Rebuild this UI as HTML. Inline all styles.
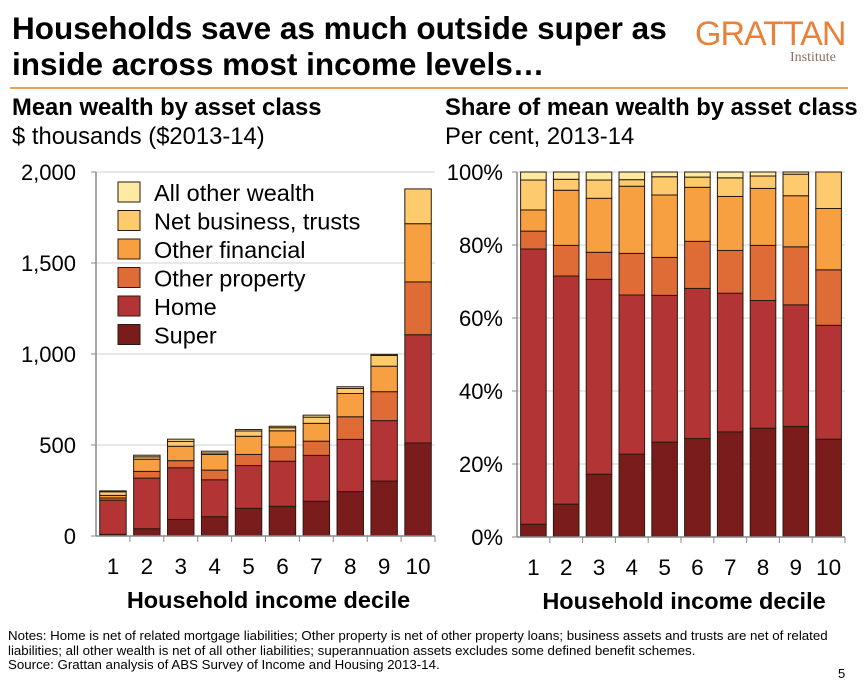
<!DOCTYPE html>
<html><head><meta charset="utf-8"><style>
body{margin:0;width:867px;height:691px;background:#fff;font-family:"Liberation Sans",Arial,sans-serif;overflow:hidden;position:relative}
.t{position:absolute;white-space:nowrap;color:#000}
</style></head><body>
<div class="t" style="left:12px;top:10px;font-size:31.5px;font-weight:bold;line-height:36px">Households save as much outside super as<br>inside across most income levels…</div>
<div class="t" style="left:695px;top:16px;font-size:34px;color:#e8823a;letter-spacing:-1px;line-height:36px">GRATTAN</div>
<div class="t" style="left:790px;top:50px;font-size:14px;color:#8a7060;font-family:'Liberation Serif',serif">Institute</div>
<div style="position:absolute;left:10px;top:87px;width:838px;height:2px;background:#f0a050"></div>
<div class="t" style="left:12px;top:94px;font-size:23.8px;font-weight:bold">Mean wealth by asset class</div>
<div class="t" style="left:12px;top:123px;font-size:23.8px">$ thousands ($2013-14)</div>
<div class="t" style="left:445px;top:94px;font-size:23.8px;font-weight:bold">Share of mean wealth by asset class</div>
<div class="t" style="left:445px;top:123px;font-size:23.8px">Per cent, 2013-14</div>
<svg id="svg" width="867" height="691" style="position:absolute;left:0;top:0"></svg>
<div class="t" style="left:8px;top:629px;font-size:13.3px;line-height:14.5px">Notes: Home is net of related mortgage liabilities; Other property is net of other property loans; business assets and trusts are net of related<br>liabilities; all other wealth is net of all other liabilities; superannuation assets excludes some defined benefit schemes.<br>Source: Grattan analysis of ABS Survey of Income and Housing 2013-14.</div>
<div class="t" style="left:838px;top:666px;font-size:13px">5</div>
<script>
const categories=["1","2","3","4","5","6","7","8","9","10"];
const seriesNames=["Super","Home","Other property","Other financial","Net business, trusts","All other wealth"];
const colors=["#7a1c1b","#b33434","#df6c36","#f7a042","#fdcb6e","#feeaa2"];
// left chart ($ thousands)
const superVals=[9,40,91,106,152,163,191,244,302,511];
const homeVals=[188,278,284,203,235,248,252,287,332,595];
const otherPropVals=[12,37,39,53,61,78,78,124,159,290];
const otherFinVals=[14,67,79,86,100,89,98,128,140,320];
const businessVals=[20,13,27,8,29,17,34,28,59,191];
const allOtherVals=[5,9,12,10,8,8,11,9,6,0];
// right chart (% share)
const superPct=[3.5,9.0,17.2,22.7,26.0,27.0,28.8,29.8,30.3,26.8];
const homePct=[75.4,62.5,53.4,43.6,40.2,41.1,38.0,35.0,33.3,31.2];
const otherPropPct=[4.9,8.4,7.4,11.4,10.4,12.9,11.7,15.1,15.9,15.2];
const otherFinPct=[5.8,15.1,14.8,18.4,17.1,14.8,14.8,15.6,14.0,16.8];
const businessPct=[8.2,3.0,5.0,1.8,5.0,2.8,5.1,3.4,5.9,10.0];
const allOtherPct=[2.2,2.0,2.2,2.1,1.3,1.4,1.6,1.1,0.6,0.0];
const leftTicks=[0,500,1000,1500,2000];
const leftTickLabels=["0","500","1,000","1,500","2,000"];
const rightTicks=[0,20,40,60,80,100];
const rightTickLabels=["0%","20%","40%","60%","80%","100%"];

const NS="http://www.w3.org/2000/svg";
const svg=document.getElementById('svg');
function mk(tag,attrs,parent){const e=document.createElementNS(NS,tag);for(const k in attrs)e.setAttribute(k,attrs[k]);(parent||svg).appendChild(e);return e;}
function txt(s,x,y,anchor,size,bold){const e=mk('text',{x:x,y:y,'text-anchor':anchor,'font-size':size,'font-family':'Liberation Sans, Arial, sans-serif','font-weight':bold?'bold':'normal'});e.textContent=s;return e;}

function drawChart(cfg){
  const {x0,x1,yBottom,yTop,max,ticks,labels,series,prefix,labelGap}=cfg;
  const yScale=v=>yBottom-(v/max)*(yBottom-yTop);
  const step=(x1-x0)/categories.length;
  const xScale=i=>x0+step*(i+0.5);
  ticks.forEach((t,i)=>{
    const y=yScale(t);
    if(t>0){const g=mk('line',{x1:x0,x2:x1,y1:y,y2:y,stroke:'#d0d0d0','stroke-width':1});
      }
    const tk=mk('line',{x1:x0-5,x2:x0,y1:y,y2:y,stroke:'#888'});
    
    const l=txt(labels[i],x0-labelGap,y+8,'end',22);
    
    
  });
  const bw=step*0.78;
  categories.forEach((c,i)=>{
    let cum=0;
    series.forEach((arr,s)=>{
      const v=arr[i];if(v<=0){cum+=v;return;}
      const yt=yScale(cum+v),yb=yScale(cum);
      const r=mk('rect',{x:xScale(i)-bw/2,y:yt,width:bw,height:yb-yt,fill:colors[s],stroke:'#2a1a10','stroke-width':1});
      
      
      cum+=v;
    });
    const xl=txt(c,xScale(i),yBottom+38,'middle',22.5);
    
    
    const tk=mk('line',{x1:x0+step*(i+1),x2:x0+step*(i+1),y1:yBottom,y2:yBottom+6,stroke:'#888'});
    
  });
  const ax=mk('line',{x1:x0,x2:x0,y1:yTop,y2:yBottom,stroke:'#888','stroke-width':1.5});
  
  const bx=mk('line',{x1:x0,x2:x1,y1:yBottom,y2:yBottom,stroke:'#888','stroke-width':1.5});
  
  const at=txt('Household income decile',(x0+x1)/2+3,yBottom+72,'middle',23.5,true);
  
  
}
drawChart({x0:96,x1:435,yBottom:536,yTop:172,max:2000,ticks:leftTicks,labels:leftTickLabels,prefix:'left',labelGap:20,
  series:[superVals,homeVals,otherPropVals,otherFinVals,businessVals,allOtherVals]});
drawChart({x0:517,x1:845,yBottom:537,yTop:172,max:100,ticks:rightTicks,labels:rightTickLabels,prefix:'right',labelGap:14,
  series:[superPct,homePct,otherPropPct,otherFinPct,businessPct,allOtherPct]});
// legend
const legendOrder=[5,4,3,2,1,0];
legendOrder.forEach((s,k)=>{
  const y=182+k*28.5;
  const b=mk('rect',{x:118,y:y,width:22,height:20,fill:colors[s],stroke:'#2a1a10'});
  
  
  const t=txt(seriesNames[s],154,y+19,'start',23.5);
  
  
});
</script>
</body></html>
